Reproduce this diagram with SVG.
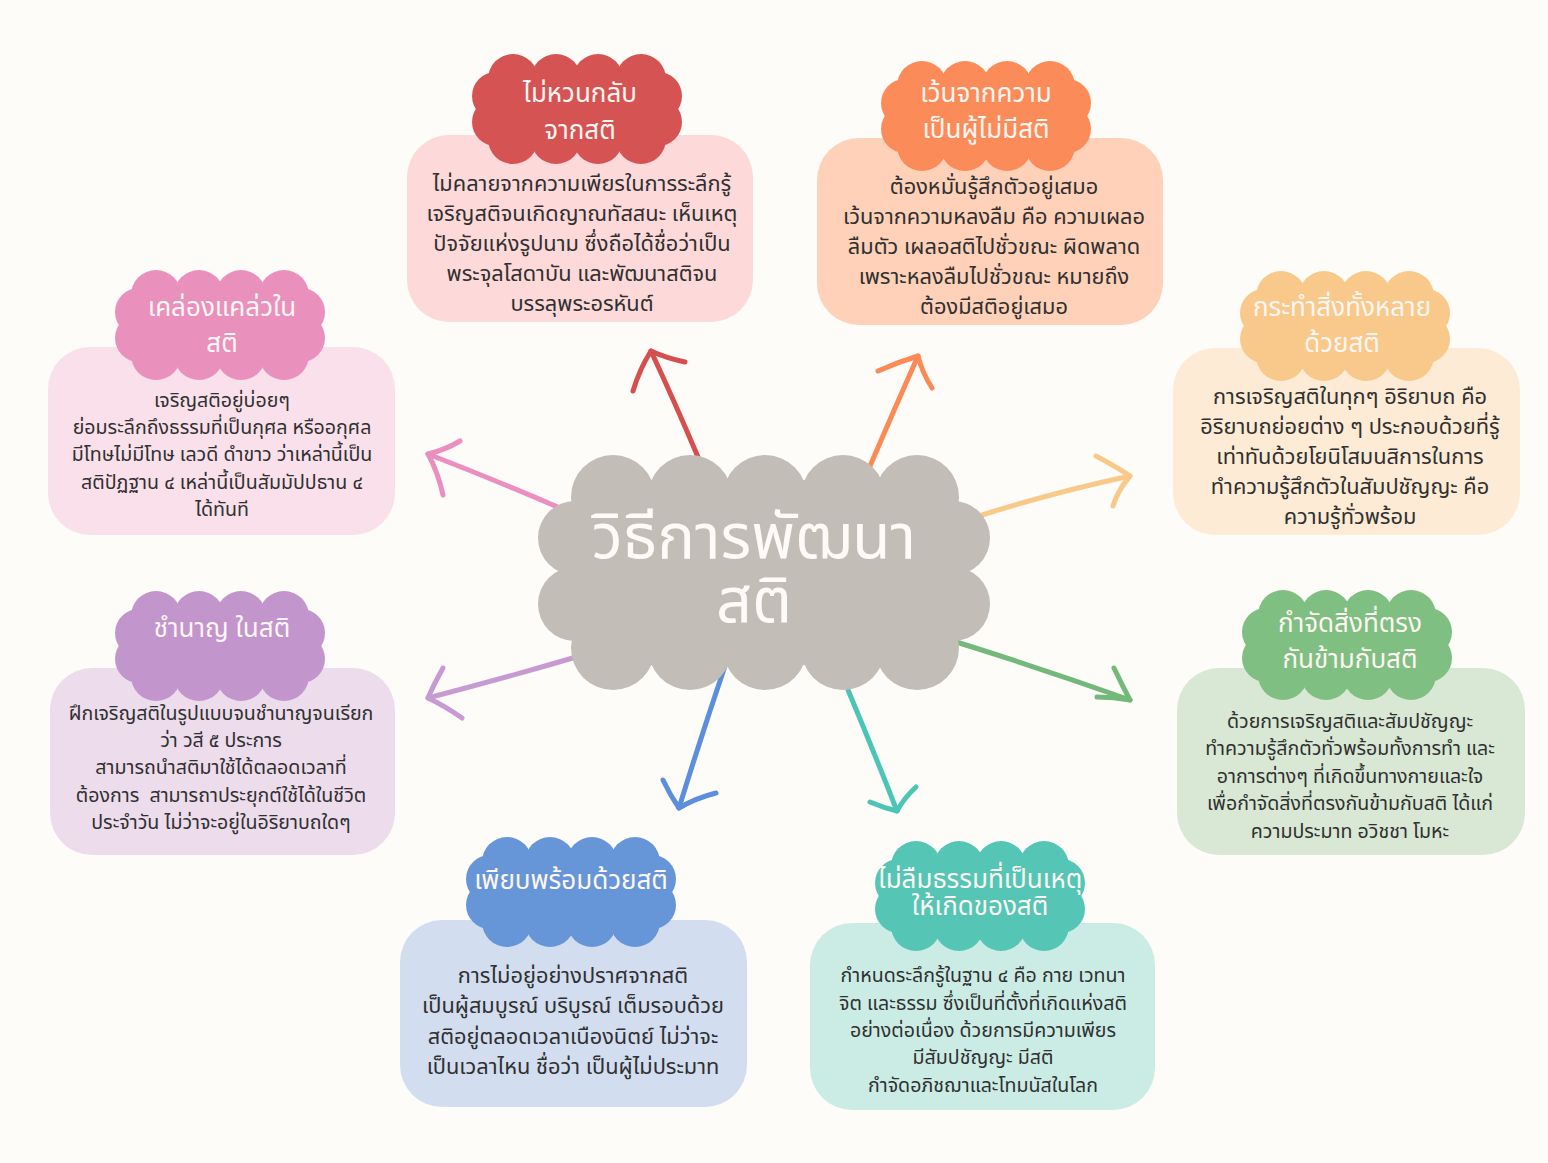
<svg xmlns="http://www.w3.org/2000/svg" xmlns:xlink="http://www.w3.org/1999/xlink" width="1548" height="1163" viewBox="0 0 1548 1163">
  <style>
    .lbl { font-family: "Noto Sans Thai", "Noto Sans", "DejaVu Sans", sans-serif; fill: #fdf6f2; text-anchor: middle; font-size: 26px; }
    .hub { font-family: "Noto Sans Thai", "Noto Sans", "DejaVu Sans", sans-serif; fill: #fdfaf8; text-anchor: middle; font-size: 63px; }
    .body { font-family: "Noto Sans Thai", "Noto Sans", "DejaVu Sans", sans-serif; fill: #303030; text-anchor: middle; font-size: 21.8px; }
    .small { font-size: 19.6px; }
    .arrow { fill: none; stroke-width: 5; stroke-linecap: round; stroke-linejoin: round; }
  </style>
  <defs>
    <!-- scalloped cloud used as the title badge of each box -->
    <g id="cloudS">
      <circle cx="-64" cy="-30" r="25"/>
      <circle cx="-21" cy="-30" r="25"/>
      <circle cx="21" cy="-30" r="25"/>
      <circle cx="64" cy="-30" r="25"/>
      <circle cx="-64" cy="30" r="25"/>
      <circle cx="-21" cy="30" r="25"/>
      <circle cx="21" cy="30" r="25"/>
      <circle cx="64" cy="30" r="25"/>
      <circle cx="-81" cy="-13" r="24"/>
      <circle cx="-81" cy="13" r="24"/>
      <circle cx="81" cy="-13" r="24"/>
      <circle cx="81" cy="13" r="24"/>
      <rect x="-88" y="-34" width="176" height="68"/>
    </g>
  </defs>

  <rect width="1548" height="1163" fill="#fdfcf9"/>

  <!-- connectors -->
  <g id="connectors" class="arrow">
    <g stroke="#d64f4f">
      <path d="M698 457 Q676 405 651 351"/>
      <path d="M633 391 Q640 368 651 351 Q666 358 685 362"/>
    </g>
    <g stroke="#fb8a55">
      <path d="M870 466 Q894 410 918 356"/>
      <path d="M878 371 Q898 362 918 356 Q922 372 932 388"/>
    </g>
    <g stroke="#ea8fc0">
      <path d="M560 508 Q495 480 428 454"/>
      <path d="M460 441 Q445 450 428 454 Q438 472 443 495"/>
    </g>
    <g stroke="#f9c98a">
      <path d="M982 515 Q1055 492 1130 476"/>
      <path d="M1096 456 Q1115 466 1130 476 Q1118 490 1113 506"/>
    </g>
    <g stroke="#c79ad2">
      <path d="M583 655 Q505 678 428 698"/>
      <path d="M443 668 Q434 684 428 698 Q445 706 462 718"/>
    </g>
    <g stroke="#72b97a">
      <path d="M950 640 Q1040 668 1130 700"/>
      <path d="M1114 668 Q1122 685 1130 700 Q1114 697 1097 697"/>
    </g>
    <g stroke="#5b8fdc">
      <path d="M725 666 Q700 740 679 808"/>
      <path d="M663 780 Q670 795 679 808 Q696 798 716 793"/>
    </g>
    <g stroke="#4cc5b5">
      <path d="M848 690 Q874 752 897 811"/>
      <path d="M870 802 Q884 808 897 811 Q904 798 916 787"/>
    </g>
  </g>

  <!-- central topic -->
  <g id="hub">
    <g fill="#c3bdb8">
      <circle cx="613" cy="497" r="42"/>
      <circle cx="690" cy="497" r="42"/>
      <circle cx="765" cy="497" r="42"/>
      <circle cx="843" cy="497" r="42"/>
      <circle cx="917" cy="497" r="42"/>
      <circle cx="613" cy="648" r="42"/>
      <circle cx="690" cy="648" r="42"/>
      <circle cx="765" cy="648" r="42"/>
      <circle cx="843" cy="648" r="42"/>
      <circle cx="917" cy="648" r="42"/>
      <circle cx="575" cy="538" r="37"/>
      <circle cx="575" cy="604" r="37"/>
      <circle cx="953" cy="538" r="37"/>
      <circle cx="953" cy="604" r="37"/>
      <rect x="590" y="480" width="350" height="185"/>
    </g>
    <text class="hub" x="754" y="558">วิธีการพัฒนา</text>
    <text class="hub" x="754" y="622">สติ</text>
  </g>

  <!-- top: not slipping away from mindfulness -->
  <g id="node-top-left">
    <rect x="407" y="135" width="346" height="187" rx="42" fill="#fdd9d9"/>
    <use xlink:href="#cloudS" transform="translate(577,109)" fill="#d65353"/>
    <text class="lbl" x="580" y="102">ไม่หวนกลับ</text>
    <text class="lbl" x="580" y="139">จากสติ</text>
    <text class="body" x="582" y="191">ไม่คลายจากความเพียรในการระลึกรู้</text>
    <text class="body" x="582" y="221">เจริญสติจนเกิดญาณทัสสนะ เห็นเหตุ</text>
    <text class="body" x="582" y="251">ปัจจัยแห่งรูปนาม ซึ่งถือได้ชื่อว่าเป็น</text>
    <text class="body" x="582" y="281">พระจุลโสดาบัน และพัฒนาสติจน</text>
    <text class="body" x="582" y="311">บรรลุพระอรหันต์</text>
  </g>

  <g id="node-top-right">
    <rect x="817" y="138" width="346" height="187" rx="42" fill="#fed1b8"/>
    <use xlink:href="#cloudS" transform="translate(986,116)" fill="#fb8c5a"/>
    <text class="lbl" x="986" y="102">เว้นจากความ</text>
    <text class="lbl" x="986" y="138">เป็นผู้ไม่มีสติ</text>
    <text class="body" x="994" y="194">ต้องหมั่นรู้สึกตัวอยู่เสมอ</text>
    <text class="body" x="994" y="224">เว้นจากความหลงลืม คือ ความเผลอ</text>
    <text class="body" x="994" y="254">ลืมตัว เผลอสติไปชั่วขณะ ผิดพลาด</text>
    <text class="body" x="994" y="284">เพราะหลงลืมไปชั่วขณะ หมายถึง</text>
    <text class="body" x="994" y="314">ต้องมีสติอยู่เสมอ</text>
  </g>

  <g id="node-left-upper">
    <rect x="48" y="347" width="347" height="188" rx="42" fill="#f9e0eb"/>
    <use xlink:href="#cloudS" transform="translate(220,325)" fill="#ea90bd"/>
    <text class="lbl" x="222" y="316">เคล่องแคล่วใน</text>
    <text class="lbl" x="222" y="352">สติ</text>
    <text class="body small" x="222" y="407">เจริญสติอยู่บ่อยๆ</text>
    <text class="body small" x="222" y="434">ย่อมระลึกถึงธรรมที่เป็นกุศล หรืออกุศล</text>
    <text class="body small" x="222" y="461">มีโทษไม่มีโทษ เลวดี ดำขาว ว่าเหล่านี้เป็น</text>
    <text class="body small" x="222" y="489">สติปัฏฐาน ๔ เหล่านี้เป็นสัมมัปปธาน ๔</text>
    <text class="body small" x="222" y="516">ได้ทันที</text>
  </g>

  <g id="node-right-upper">
    <rect x="1173" y="348" width="347" height="187" rx="42" fill="#fdebd5"/>
    <use xlink:href="#cloudS" transform="translate(1345,326)" fill="#f8c98a"/>
    <text class="lbl" x="1342" y="316">กระทำสิ่งทั้งหลาย</text>
    <text class="lbl" x="1342" y="352">ด้วยสติ</text>
    <text class="body" x="1350" y="404">การเจริญสติในทุกๆ อิริยาบถ คือ</text>
    <text class="body" x="1350" y="434">อิริยาบถย่อยต่าง ๆ ประกอบด้วยที่รู้</text>
    <text class="body" x="1350" y="464">เท่าทันด้วยโยนิโสมนสิการในการ</text>
    <text class="body" x="1350" y="494">ทำความรู้สึกตัวในสัมปชัญญะ คือ</text>
    <text class="body" x="1350" y="524">ความรู้ทั่วพร้อม</text>
  </g>

  <g id="node-left-lower">
    <rect x="50" y="668" width="345" height="187" rx="42" fill="#eddcec"/>
    <use xlink:href="#cloudS" transform="translate(220,646)" fill="#c295cc"/>
    <text class="lbl" x="222" y="637">ชำนาญ ในสติ</text>
    <text class="body small" x="221" y="720">ฝึกเจริญสติในรูปแบบจนชำนาญจนเรียก</text>
    <text class="body small" x="221" y="747">ว่า วสี ๕ ประการ</text>
    <text class="body small" x="221" y="774">สามารถนำสติมาใช้ได้ตลอดเวลาที่</text>
    <text class="body small" x="221" y="802" xml:space="preserve">ต้องการ  สามารถาประยุกต์ใช้ได้ในชีวิต</text>
    <text class="body small" x="221" y="829">ประจำวัน ไม่ว่าจะอยู่ในอิริยาบถใดๆ</text>
  </g>

  <g id="node-right-lower">
    <rect x="1177" y="668" width="348" height="187" rx="42" fill="#d8e8d5"/>
    <use xlink:href="#cloudS" transform="translate(1347,645)" fill="#80bf82"/>
    <text class="lbl" x="1350" y="632">กำจัดสิ่งที่ตรง</text>
    <text class="lbl" x="1350" y="668">กันข้ามกับสติ</text>
    <text class="body small" x="1350" y="728">ด้วยการเจริญสติและสัมปชัญญะ</text>
    <text class="body small" x="1350" y="755">ทำความรู้สึกตัวทั่วพร้อมทั้งการทำ และ</text>
    <text class="body small" x="1350" y="783">อาการต่างๆ ที่เกิดขึ้นทางกายและใจ</text>
    <text class="body small" x="1350" y="810">เพื่อกำจัดสิ่งที่ตรงกันข้ามกับสติ ได้แก่</text>
    <text class="body small" x="1350" y="838">ความประมาท อวิชชา โมหะ</text>
  </g>

  <g id="node-bottom-left">
    <rect x="400" y="920" width="347" height="187" rx="42" fill="#d2def0"/>
    <use xlink:href="#cloudS" transform="translate(571,892)" fill="#6796d8"/>
    <text class="lbl" x="571" y="889">เพียบพร้อมด้วยสติ</text>
    <text class="body" x="573" y="983">การไม่อยู่อย่างปราศจากสติ</text>
    <text class="body" x="573" y="1013">เป็นผู้สมบูรณ์ บริบูรณ์ เต็มรอบด้วย</text>
    <text class="body" x="573" y="1044">สติอยู่ตลอดเวลาเนืองนิตย์ ไม่ว่าจะ</text>
    <text class="body" x="573" y="1074">เป็นเวลาไหน ชื่อว่า เป็นผู้ไม่ประมาท</text>
  </g>

  <g id="node-bottom-right">
    <rect x="810" y="923" width="345" height="187" rx="42" fill="#cbece5"/>
    <use xlink:href="#cloudS" transform="translate(980,896)" fill="#55c6b6"/>
    <text class="lbl" x="980" y="888">ไม่ลืมธรรมที่เป็นเหตุ</text>
    <text class="lbl" x="980" y="915">ให้เกิดของสติ</text>
    <text class="body small" x="983" y="982">กำหนดระลึกรู้ในฐาน ๔ คือ กาย เวทนา</text>
    <text class="body small" x="983" y="1010">จิต และธรรม ซึ่งเป็นที่ตั้งที่เกิดแห่งสติ</text>
    <text class="body small" x="983" y="1037">อย่างต่อเนื่อง ด้วยการมีความเพียร</text>
    <text class="body small" x="983" y="1064">มีสัมปชัญญะ มีสติ</text>
    <text class="body small" x="983" y="1092">กำจัดอภิชฌาและโทมนัสในโลก</text>
  </g>
</svg>
